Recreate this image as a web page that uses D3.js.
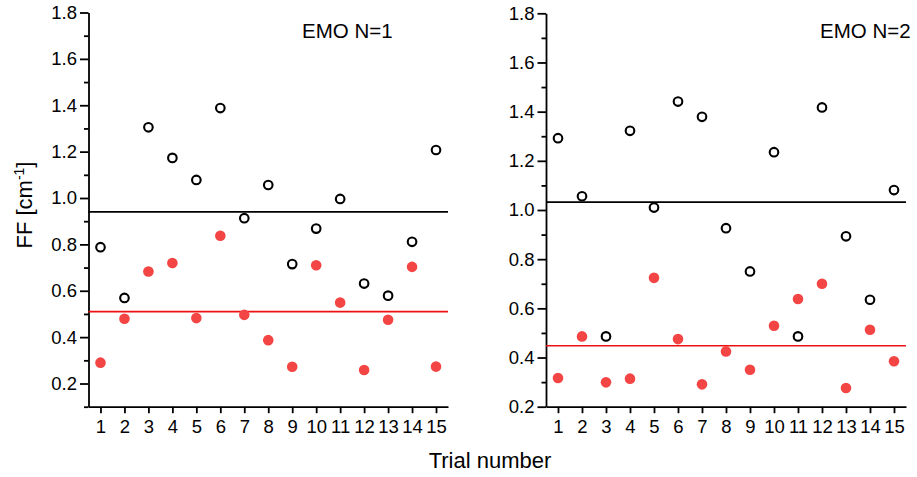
<!DOCTYPE html>
<html>
<head>
<meta charset="utf-8">
<script src="https://cdn.jsdelivr.net/npm/d3@7"></script>
<style>
  body { margin: 0; background: #fff; }
  text { font-family: Arial, "Liberation Sans", sans-serif; fill: #000; }
  .axis text { font-size: 18.5px; font-family: Arial, "Liberation Sans", sans-serif; }
  .axis path, .axis line { stroke: #000; stroke-width: 1.8px; }
</style>
</head>
<body>
<div id="chart-area"></div>
<script>
// trial numbers
var trials = [1, 2, 3, 4, 5, 6, 7, 8, 9, 10, 11, 12, 13, 14, 15];

// EMO N=1
var n1Open = [0.788, 0.569, 1.305, 1.173, 1.078, 1.388, 0.913, 1.056, 0.715, 0.868, 0.996, 0.631, 0.579, 0.811, 1.207];
var n1Filled = [0.290, 0.479, 0.683, 0.720, 0.482, 0.837, 0.496, 0.387, 0.272, 0.710, 0.549, 0.258, 0.475, 0.703, 0.273];
var n1OpenMean = 0.94;
var n1FilledMean = 0.51;

// EMO N=2
var n2Open = [1.292, 1.056, 0.486, 1.322, 1.010, 1.441, 1.379, 0.926, 0.750, 1.235, 0.486, 1.417, 0.893, 0.635, 1.081];
var n2Filled = [0.317, 0.486, 0.299, 0.314, 0.724, 0.475, 0.291, 0.425, 0.350, 0.529, 0.638, 0.700, 0.276, 0.513, 0.385];
var n2OpenMean = 1.032;
var n2FilledMean = 0.448;

var yTicks = [0.2, 0.4, 0.6, 0.8, 1.0, 1.2, 1.4, 1.6, 1.8];
var yMinor = [0.1, 0.3, 0.5, 0.7, 0.9, 1.1, 1.3, 1.5, 1.7];

var svg = d3.select("#chart-area")
  .append("svg")
  .attr("width", 917)
  .attr("height", 477);

function drawPanel(opts) {
  var x = d3.scaleLinear().domain([0.5, 15.5]).range([opts.left, opts.right]);
  var y = d3.scaleLinear().domain(opts.yDomain).range([opts.bottom, opts.top]);

  var g = svg.append("g");

  // minor y ticks
  var minorAxis = d3.axisLeft(y)
    .tickValues(yMinor.filter(function(d) { return d >= opts.yDomain[0]; }))
    .tickSize(4.5).tickFormat("");
  g.append("g").attr("class", "axis")
    .attr("transform", "translate(" + opts.left + ",0)")
    .call(minorAxis)
    .select(".domain").remove();

  var yAxis = d3.axisLeft(y).tickValues(yTicks).tickSize(8.5).tickPadding(3)
    .tickSizeOuter(0)
    .tickFormat(d3.format(".1f"));
  g.append("g").attr("class", "axis")
    .attr("transform", "translate(" + opts.left + ",0)")
    .call(yAxis);

  var xAxis = d3.axisBottom(x).tickValues(trials).tickSize(6.5).tickPadding(7).tickSizeOuter(0);
  g.append("g").attr("class", "axis")
    .attr("transform", "translate(0," + opts.bottom + ")")
    .call(xAxis);

  // mean lines
  g.append("line")
    .attr("x1", opts.left).attr("x2", opts.right)
    .attr("y1", y(opts.openMean)).attr("y2", y(opts.openMean))
    .attr("stroke", "#000").attr("stroke-width", 1.6);
  g.append("line")
    .attr("x1", opts.left).attr("x2", opts.right)
    .attr("y1", y(opts.filledMean)).attr("y2", y(opts.filledMean))
    .attr("stroke", "#ee1111").attr("stroke-width", 1.6);

  // filled red points
  g.selectAll(".filled")
    .data(opts.filled)
    .enter()
    .append("circle")
    .attr("class", "filled")
    .attr("cx", function(d, i) { return x(trials[i]); })
    .attr("cy", function(d) { return y(d); })
    .attr("r", 5.3)
    .attr("fill", "#f44545");

  // open black points
  g.selectAll(".open")
    .data(opts.open)
    .enter()
    .append("circle")
    .attr("class", "open")
    .attr("cx", function(d, i) { return x(trials[i]); })
    .attr("cy", function(d) { return y(d); })
    .attr("r", 4.3)
    .attr("fill", "none")
    .attr("stroke", "#000")
    .attr("stroke-width", 2.1);

  g.append("text")
    .attr("x", opts.titleX)
    .attr("y", 37.5)
    .attr("font-size", "20.5px")
    .text(opts.title);
}

drawPanel({
  left: 88.5, right: 448, top: 12.5, bottom: 406.7,
  yDomain: [0.1, 1.8],
  open: n1Open, filled: n1Filled,
  openMean: n1OpenMean, filledMean: n1FilledMean,
  title: "EMO N=1", titleX: 302
});

drawPanel({
  left: 546, right: 906, top: 13.3, bottom: 406.7,
  yDomain: [0.2, 1.8],
  open: n2Open, filled: n2Filled,
  openMean: n2OpenMean, filledMean: n2FilledMean,
  title: "EMO N=2", titleX: 820
});

// X Label
svg.append("text")
  .attr("x", 490)
  .attr("y", 468)
  .attr("font-size", "22px")
  .attr("text-anchor", "middle")
  .text("Trial number");

// Y Label
var yl = svg.append("text")
  .attr("transform", "translate(32,205) rotate(-90)")
  .attr("font-size", "22px")
  .attr("text-anchor", "middle");
yl.append("tspan").text("FF [cm");
yl.append("tspan").attr("font-size", "14px").attr("dy", -8).text("-1");
yl.append("tspan").attr("dy", 8).text("]");
</script>
</body>
</html>
